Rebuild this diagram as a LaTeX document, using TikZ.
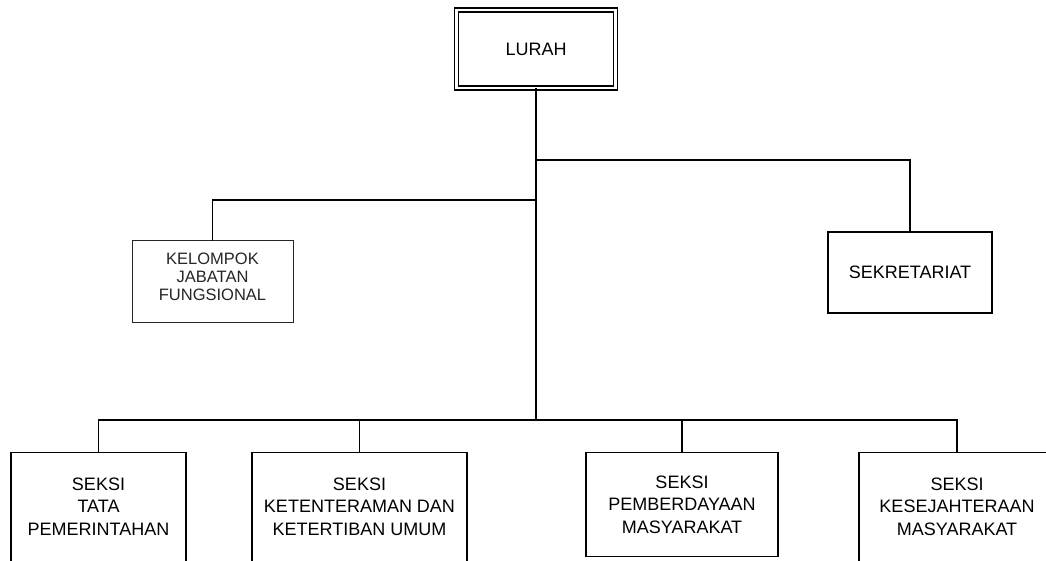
\documentclass[tikz,border=0pt]{standalone}
\usepackage{fontspec}
\setmainfont{Liberation Sans}
\begin{document}
\begin{tikzpicture}[x=1pt,y=-1pt]
\tikzset{
  conn/.style={line width=1.5pt, line cap=rect},
  box/.style={draw, line width=1.4pt, fill=white, align=center, inner sep=0pt,
    font=\fontsize{18}{22.5}\selectfont},
  topbox/.style={box, double, double distance=2.6pt, line width=1.3pt,
    minimum width=159pt, minimum height=78pt},
  sidebox/.style={box, minimum width=164pt, minimum height=81pt},
  bbox/.style={box, anchor=north},
  kbox/.style={box, anchor=north, line width=1pt, draw=black!85, text=black!85,
    font=\fontsize{16.5}{18}\selectfont}
}
\useasboundingbox (0,0) rectangle (1046,560);
\clip (0,0) rectangle (1046,560);

% junction coordinates
\coordinate (jr) at (536,160);
\coordinate (jl) at (536,200);
\coordinate (jb) at (536,420);

% nodes
\node[topbox] (lurah) at (536,49) {LURAH};
\node[sidebox] (sek) at (910,272.5) {SEKRETARIAT};
\node[kbox] (kel) at (212.5,240)
  {\parbox[t][82pt][t]{161pt}{\centering\vspace*{12pt}KELOMPOK\\JABATAN\\FUNGSIONAL}};
\node[bbox] (s1) at (98.5,452)
  {\parbox[t][150pt][t]{175pt}{\centering\vspace*{25.1pt}SEKSI\\TATA\\PEMERINTAHAN}};
\node[bbox] (s2) at (359.5,452)
  {\parbox[t][150pt][t]{215pt}{\centering\vspace*{25.1pt}SEKSI\\KETENTERAMAN DAN\\KETERTIBAN UMUM}};
\node[bbox] (s3) at (682,452)
  {\parbox[t][104pt][t]{192pt}{\centering\vspace*{23.1pt}SEKSI\\PEMBERDAYAAN\\MASYARAKAT}};
\node[bbox] (s4) at (957,452)
  {\parbox[t][150pt][t]{196pt}{\centering\vspace*{25.1pt}SEKSI\\KESEJAHTERAAN\\MASYARAKAT}};

% connectors
\draw[conn] (lurah.south) -- (jb);
\draw[conn] (jr) -| (sek.north);
\draw[conn] (jl) -| (kel.north);
\draw[conn] (s1.north) |- (jb) -| (s4.north);
\draw[conn] (s2.north) -- (s2.north |- jb);
\draw[conn] (s3.north) -- (s3.north |- jb);
\end{tikzpicture}
\end{document}
